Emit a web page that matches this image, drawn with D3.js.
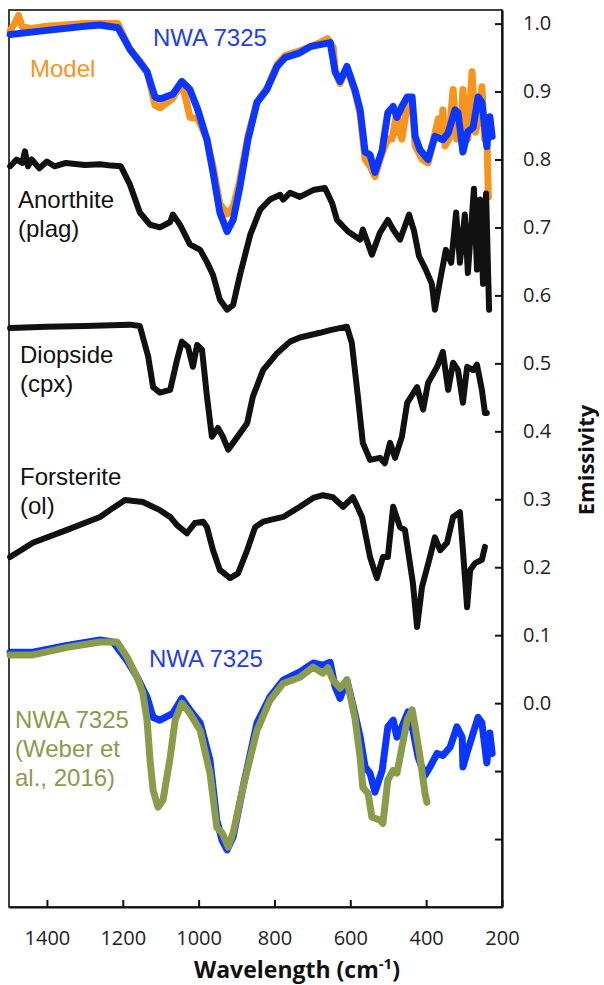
<!DOCTYPE html>
<html>
<head>
<meta charset="utf-8">
<script src="https://cdn.jsdelivr.net/npm/d3@7"></script>
<style>
  body { margin: 0; background: #fff; }
  svg { display: block; }
</style>
</head>
<body>
<div id="main"></div>
<script>
// wavenumber (cm-1) ticks and emissivity ticks
const xTicks = [1400, 1200, 1000, 800, 600, 400, 200];
const yTicks = [1.0, 0.9, 0.8, 0.7, 0.6, 0.5, 0.4, 0.3, 0.2, 0.1, 0.0, -0.1, -0.2];
const yTickLabels = ["1.0", "0.9", "0.8", "0.7", "0.6", "0.5", "0.4", "0.3", "0.2", "0.1", "0.0", "", ""];

// spectra as [wavenumber, emissivity]
const model = [[1497,0.99],[1485,1.0],[1475,1.012],[1465,0.995],[1440,0.993],[1400,0.996],[1300,1.0],[1213,1.0],[1181,0.962],
  [1155,0.945],[1136,0.93],[1115,0.88],[1102,0.876],[1068,0.89],[1044,0.913],[1030,0.88],[1023,0.862],[1002,0.86],[978,0.83],
  [962,0.79],[944,0.735],[925,0.72],[909,0.73],[891,0.77],[870,0.835],[846,0.885],[820,0.905],[793,0.94],[772,0.953],[733,0.96],
  [706,0.966],[680,0.972],[660,0.978],[645,0.965],[640,0.93],[627,0.912],[609,0.935],[588,0.9],[574,0.866],[561,0.8],[548,0.79],
  [535,0.775],[516,0.81],[501,0.83],[490,0.83],[477,0.87],[470,0.84],[464,0.83],[450,0.88],[437,0.88],[429,0.82],[410,0.80],
  [395,0.795],[380,0.83],[368,0.86],[360,0.835],[356,0.873],[350,0.82],[340,0.83],[329,0.903],[320,0.83],[310,0.83],[303,0.903],
  [296,0.84],[290,0.83],[279,0.929],[270,0.84],[262,0.86],[253,0.907],[246,0.83],[240,0.84],[236,0.745]];

const nwaTop = [[1497,0.984],[1400,0.99],[1300,0.996],[1260,0.998],[1213,0.994],[1181,0.962],[1155,0.943],[1136,0.929],
  [1115,0.892],[1102,0.889],[1068,0.896],[1044,0.915],[1023,0.903],[1002,0.873],[978,0.829],[962,0.781],[944,0.722],[925,0.694],
  [909,0.711],[891,0.760],[870,0.829],[846,0.884],[820,0.903],[793,0.937],[772,0.950],[733,0.957],[706,0.966],[680,0.969],
  [653,0.972],[640,0.929],[627,0.915],[609,0.937],[588,0.903],[574,0.873],[561,0.811],[548,0.807],[535,0.781],[516,0.814],
  [501,0.869],[487,0.878],[477,0.862],[464,0.878],[450,0.892],[437,0.892],[429,0.834],[416,0.814],[395,0.800],[377,0.834],
  [356,0.829],[342,0.839],[324,0.873],[316,0.869],[303,0.811],[290,0.841],[276,0.847],[263,0.892],[253,0.884],[240,0.819],
  [232,0.863],[226,0.834]];

const anorthite = [[1497,0.79],[1480,0.80],[1465,0.795],[1458,0.812],[1450,0.79],[1440,0.80],[1420,0.787],[1400,0.797],
  [1380,0.79],[1350,0.795],[1300,0.792],[1260,0.793],[1230,0.791],[1205,0.79],[1181,0.763],[1155,0.722],[1128,0.704],
  [1102,0.700],[1075,0.708],[1068,0.719],[1049,0.704],[1023,0.675],[996,0.667],[978,0.649],[962,0.630],[944,0.594],[925,0.579],
  [909,0.586],[891,0.630],[864,0.689],[838,0.726],[812,0.741],[785,0.748],[777,0.741],[759,0.751],[733,0.745],[698,0.755],
  [667,0.758],[648,0.736],[635,0.711],[606,0.694],[574,0.682],[567,0.697],[543,0.660],[522,0.692],[501,0.711],[487,0.697],
  [469,0.682],[445,0.719],[432,0.695],[419,0.658],[401,0.638],[385,0.617],[377,0.579],[363,0.623],[348,0.667],[334,0.648],
  [321,0.722],[311,0.648],[298,0.719],[290,0.633],[274,0.757],[266,0.638],[258,0.741],[250,0.617],[242,0.750],[236,0.62],
  [234,0.579]];

const diopside = [[1497,0.552],[1400,0.554],[1300,0.555],[1181,0.557],[1155,0.555],[1133,0.510],[1120,0.465],[1102,0.457],
  [1075,0.461],[1057,0.505],[1044,0.532],[1028,0.524],[1015,0.495],[1004,0.527],[991,0.520],[978,0.451],[965,0.392],
  [949,0.405],[936,0.392],[922,0.373],[909,0.383],[872,0.412],[857,0.451],[830,0.490],[793,0.515],[759,0.532],[733,0.538],
  [680,0.545],[653,0.549],[609,0.554],[596,0.530],[580,0.451],[567,0.383],[548,0.358],[522,0.361],[509,0.353],[495,0.383],
  [482,0.361],[464,0.392],[450,0.442],[424,0.465],[408,0.432],[395,0.471],[371,0.495],[356,0.517],[342,0.461],[329,0.501],
  [316,0.490],[303,0.442],[292,0.495],[276,0.490],[266,0.498],[253,0.461],[245,0.427],[240,0.427]];

const forsterite = [[1497,0.215],[1437,0.236],[1347,0.255],[1260,0.274],[1234,0.284],[1194,0.299],[1147,0.296],[1102,0.284],
  [1075,0.274],[1057,0.262],[1031,0.250],[1010,0.265],[988,0.267],[978,0.259],[962,0.225],[944,0.196],[917,0.184],[896,0.191],
  [872,0.225],[851,0.259],[830,0.267],[777,0.274],[733,0.289],[698,0.302],[672,0.306],[646,0.303],[619,0.289],[593,0.303],
  [569,0.274],[548,0.215],[530,0.184],[514,0.215],[501,0.215],[487,0.289],[469,0.259],[456,0.255],[435,0.177],[424,0.112],
  [411,0.171],[390,0.215],[377,0.244],[363,0.225],[345,0.236],[329,0.274],[311,0.281],[303,0.225],[292,0.141],[284,0.196],
  [271,0.206],[253,0.211],[245,0.230]];

const nwaBottom = [[1497,0.075],[1437,0.075],[1347,0.085],[1260,0.093],[1226,0.090],[1189,0.063],[1162,0.038],[1136,0.009],
  [1120,-0.021],[1102,-0.025],[1068,-0.015],[1044,0.007],[1023,-0.010],[996,-0.029],[970,-0.084],[952,-0.172],[938,-0.202],
  [925,-0.216],[909,-0.197],[883,-0.124],[846,-0.029],[812,0.009],[777,0.034],[733,0.046],[698,0.059],[672,0.056],[653,0.060],
  [640,0.024],[627,0.007],[609,0.034],[588,-0.015],[574,-0.050],[561,-0.094],[548,-0.103],[535,-0.131],[516,-0.099],
  [501,-0.035],[487,-0.025],[477,-0.050],[464,-0.035],[448,-0.013],[435,-0.040],[421,-0.080],[403,-0.106],[390,-0.094],
  [371,-0.074],[356,-0.077],[337,-0.065],[319,-0.035],[305,-0.050],[303,-0.094],[290,-0.069],[276,-0.044],[263,-0.021],
  [253,-0.029],[240,-0.088],[232,-0.044],[226,-0.074]];

const weber = [[1497,0.071],[1437,0.071],[1347,0.082],[1260,0.090],[1215,0.090],[1189,0.068],[1162,0.038],[1147,0.015],
  [1136,-0.025],[1128,-0.084],[1120,-0.128],[1107,-0.153],[1094,-0.143],[1075,-0.080],[1062,-0.025],[1044,0.0],[1023,-0.015],
  [996,-0.040],[970,-0.103],[952,-0.183],[938,-0.191],[922,-0.212],[909,-0.191],[883,-0.124],[846,-0.040],[812,0.004],
  [777,0.029],[733,0.038],[698,0.053],[672,0.044],[659,0.052],[646,0.034],[627,0.022],[609,0.034],[588,-0.021],[574,-0.080],
  [567,-0.124],[553,-0.133],[543,-0.168],[522,-0.172],[514,-0.177],[501,-0.113],[487,-0.099],[477,-0.103],[469,-0.080],
  [450,-0.025],[437,-0.010],[429,-0.035],[416,-0.080],[403,-0.133],[398,-0.146]];

const series = [
  {data: model, color: '#F7941D', width: 7},
  {data: nwaTop, color: '#0A36FF', width: 7},
  {data: anorthite, color: '#111111', width: 6},
  {data: diopside, color: '#111111', width: 6},
  {data: forsterite, color: '#111111', width: 6},
  {data: nwaBottom, color: '#0A36FF', width: 7},
  {data: weber, color: '#8A9C4B', width: 7}
];

const labels = [
  {lines: ["NWA 7325"], x: 153, y: 46, color: '#1F3FE6'},
  {lines: ["Model"], x: 30, y: 77, color: '#F7941D'},
  {lines: ["Anorthite", "(plag)"], x: 18, y: 208, color: '#111'},
  {lines: ["Diopside", "(cpx)"], x: 20, y: 363, color: '#111'},
  {lines: ["Forsterite", "(ol)"], x: 20, y: 485, color: '#111'},
  {lines: ["NWA 7325"], x: 149, y: 667, color: '#1F3FE6'},
  {lines: ["NWA 7325", "(Weber et", "al., 2016)"], x: 15, y: 728, color: '#8A9C4B'}
];

class Spectra {
  constructor(config) {
    this.config = config;
    this.svg = null;
    this.xScale = null;
    this.yScale = null;
    this.createSvg();
  }

  createSvg() {
    this.svg = d3.select(this.config.div)
      .append('svg')
      .attr('width', this.config.width)
      .attr('height', this.config.height);
  }

  createScales() {
    const c = this.config;
    this.xScale = d3.scaleLinear().domain([1500, 200]).range([c.left, c.right]);
    this.yScale = d3.scaleLinear().domain([-0.3, 1.02]).range([c.bottom, c.top]);
  }

  createAxis() {
    const c = this.config;
    const font = "'Open Sans', sans-serif";

    // frame
    this.svg.append('rect')
      .attr('x', c.left).attr('y', c.top)
      .attr('width', c.right - c.left).attr('height', c.bottom - c.top)
      .attr('fill', 'none').attr('stroke', '#111').attr('stroke-width', 1.6);

    const xAxis = d3.axisBottom(this.xScale)
      .tickValues(xTicks)
      .tickSizeInner(-7)
      .tickSizeOuter(0)
      .tickPadding(24)
      .tickFormat(d3.format('d'));

    const yAxis = d3.axisRight(this.yScale)
      .tickValues(yTicks)
      .tickSizeInner(-7)
      .tickSizeOuter(0)
      .tickPadding(21)
      .tickFormat((d, i) => yTickLabels[i]);

    const gx = this.svg.append('g')
      .attr('transform', `translate(0,${c.bottom})`)
      .call(xAxis);

    const gy = this.svg.append('g')
      .attr('transform', `translate(${c.right},0)`)
      .call(yAxis);

    [gx, gy].forEach(g => {
      g.select('.domain').attr('stroke', '#111').attr('stroke-width', 2.2);
      g.selectAll('.tick line').attr('stroke', '#111').attr('stroke-width', 2);
      g.selectAll('.tick text')
        .attr('fill', '#222')
        .style('font-family', font)
        .style('font-size', '20px');
    });

    // axis titles
    const title = this.svg.append('text')
      .attr('x', 297).attr('y', 978)
      .attr('text-anchor', 'middle')
      .style('font-family', font)
      .style('font-size', '23px')
      .style('font-weight', 'bold')
      .attr('fill', '#111');
    title.append('tspan').text('Wavelength (cm');
    title.append('tspan').attr('dy', -9).style('font-size', '15px').text('-1');
    title.append('tspan').attr('dy', 9).text(')');

    this.svg.append('text')
      .attr('transform', 'translate(594,460) rotate(-90)')
      .attr('text-anchor', 'middle')
      .style('font-family', font)
      .style('font-size', '22px')
      .style('font-weight', 'bold')
      .attr('fill', '#111')
      .text('Emissivity');
  }

  createLines() {
    const line = d3.line()
      .x(d => this.xScale(d[0]))
      .y(d => this.yScale(d[1]));

    this.svg.append('g')
      .selectAll('path')
      .data(series)
      .join('path')
      .attr('d', d => line(d.data))
      .attr('fill', 'none')
      .attr('stroke', d => d.color)
      .attr('stroke-width', d => d.width)
      .attr('stroke-linejoin', 'round')
      .attr('stroke-linecap', 'round');
  }

  createLabels() {
    const g = this.svg.append('g')
      .style('font-family', "'Liberation Sans', Arial, sans-serif")
      .style('font-size', '24px');

    labels.forEach(l => {
      const t = g.append('text')
        .attr('x', l.x).attr('y', l.y)
        .attr('fill', l.color);
      l.lines.forEach((s, i) => {
        t.append('tspan')
          .attr('x', l.x)
          .attr('dy', i === 0 ? 0 : 29)
          .text(s);
      });
    });
  }
}

function main() {
  let c = {div: '#main', width: 604, height: 985, top: 10, bottom: 907, left: 9, right: 502};
  let a = new Spectra(c);
  a.createScales();
  a.createAxis();
  a.createLines();
  a.createLabels();
}

main();
</script>
</body>
</html>
